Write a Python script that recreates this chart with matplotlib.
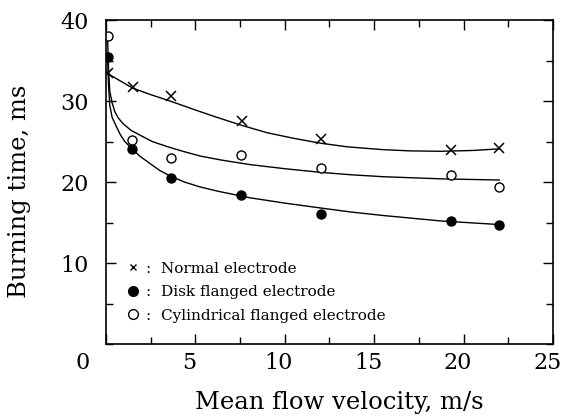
import matplotlib
matplotlib.use("Agg")
import matplotlib.pyplot as plt
import matplotlib.transforms as mtransforms
from matplotlib.lines import Line2D
from matplotlib.ticker import MultipleLocator

# measured points
normal_x = [0.1, 1.5, 3.65, 7.6, 12.0, 19.3, 22.0]
normal_y = [33.5, 31.7, 30.6, 27.6, 25.3, 23.95, 24.15]
disk_x = [0.1, 1.47, 3.65, 7.55, 12.0, 19.3, 22.0]
disk_y = [35.4, 24.1, 20.5, 18.4, 16.0, 15.25, 14.75]
cyl_x = [0.1, 1.47, 3.65, 7.55, 12.0, 19.3, 22.0]
cyl_y = [38.0, 25.2, 23.0, 23.4, 21.7, 20.9, 19.45]

# fitted curves
normal_fit_x = [0.1, 0.8, 1.5, 2.5, 3.6, 5.0, 6.2, 7.6, 9.0, 10.5, 12.0, 13.5, 15.5, 17.0, 18.7, 20.5, 22.0]
normal_fit_y = [33.4, 32.5, 31.6, 30.8, 30.0, 28.9, 28.0, 27.0, 26.1, 25.4, 24.8, 24.35, 24.0, 23.85, 23.8, 23.9, 24.1]
cyl_fit_x = [0.1, 0.15, 0.22, 0.35, 0.5, 0.7, 0.97, 1.4, 1.9, 2.6, 3.4, 4.3, 5.3, 6.5, 8.05, 10.0,
             12.0, 13.7, 15.5, 18.7, 22.0]
cyl_fit_y = [37.6, 34.0, 31.2, 29.8, 28.7, 27.9, 27.2, 26.4, 25.8, 25.0, 24.4, 23.8, 23.2, 22.7, 22.16, 21.65,
             21.2, 20.9, 20.66, 20.4, 20.25]
disk_fit_x = [0.1, 0.15, 0.22, 0.35, 0.6, 0.8, 1.06, 1.47, 1.9, 2.46, 3.0, 3.64, 4.4, 5.26, 6.3, 8.05,
              10.0, 12.0, 13.7, 15.5, 18.7, 22.0]
disk_fit_y = [35.3, 32.0, 29.5, 28.0, 26.8, 25.9, 25.0, 24.1, 23.2, 22.3, 21.45, 20.7, 20.0, 19.4, 18.85, 18.06,
              17.4, 16.8, 16.3, 15.87, 15.2, 14.75]

xticks = [0, 5, 10, 15, 20, 25]
yticks = [10, 20, 30, 40]
labels = [":  Normal electrode", ":  Disk flanged electrode", ":  Cylindrical flanged electrode"]

plt.rcParams["font.family"] = "DejaVu Serif"

fig = plt.figure(figsize=(5.69, 4.19), dpi=100)
ax = fig.add_axes([0.186, 0.179, 0.786, 0.773])

ax.plot(normal_fit_x, normal_fit_y, color="black", linewidth=1.0)
ax.plot(cyl_fit_x, cyl_fit_y, color="black", linewidth=1.0)
ax.plot(disk_fit_x, disk_fit_y, color="black", linewidth=1.0)

ax.plot(normal_x, normal_y, linestyle="none", marker="x", markersize=6.5,
        markeredgewidth=1.1, color="black")
ax.plot(disk_x, disk_y, linestyle="none", marker="o", markersize=6.5,
        color="black")
ax.plot(cyl_x, cyl_y, linestyle="none", marker="o", markersize=6.5,
        markerfacecolor="white", markeredgecolor="black", markeredgewidth=1.0)

ax.set_xlim(0, 25)
ax.set_ylim(0, 40)
ax.set_xticks(xticks)
ax.set_yticks(yticks)
ax.xaxis.set_minor_locator(MultipleLocator(2.5))
ax.yaxis.set_minor_locator(MultipleLocator(5))
ax.tick_params(which="both", direction="in", top=True, right=True, width=1.0)
ax.tick_params(which="major", length=7, labelsize=16)
ax.tick_params(axis="y", which="major", pad=12)
ax.tick_params(axis="x", which="major", pad=6)
ax.tick_params(which="minor", length=5)
for s in ax.spines.values():
    s.set_linewidth(1.2)

for lab in ax.get_xticklabels():
    dx = -23 if lab.get_text() == "0" else -6
    lab.set_transform(lab.get_transform() + mtransforms.ScaledTranslation(dx / 100, 0, fig.dpi_scale_trans))

ax.set_xlabel("Mean flow velocity, m/s", fontsize=17.5)
ax.set_ylabel("Burning time, ms", fontsize=17.5)
ax.xaxis.set_label_coords(0.523, -0.145)
ax.yaxis.set_label_coords(-0.168, 0.47)

handles = [
    Line2D([], [], linestyle="none", marker="x", markersize=4.5, markeredgewidth=1.0, color="black"),
    Line2D([], [], linestyle="none", marker="o", markersize=7, color="black"),
    Line2D([], [], linestyle="none", marker="o", markersize=7, markerfacecolor="white",
           markeredgecolor="black"),
]
ax.legend(handles, labels, loc="lower left", bbox_to_anchor=(0.02, 0.033), frameon=False,
          fontsize=11, handlelength=1.0, handletextpad=0.35, labelspacing=0.62,
          borderpad=0.2)

fig.savefig("out.png", dpi=100)
